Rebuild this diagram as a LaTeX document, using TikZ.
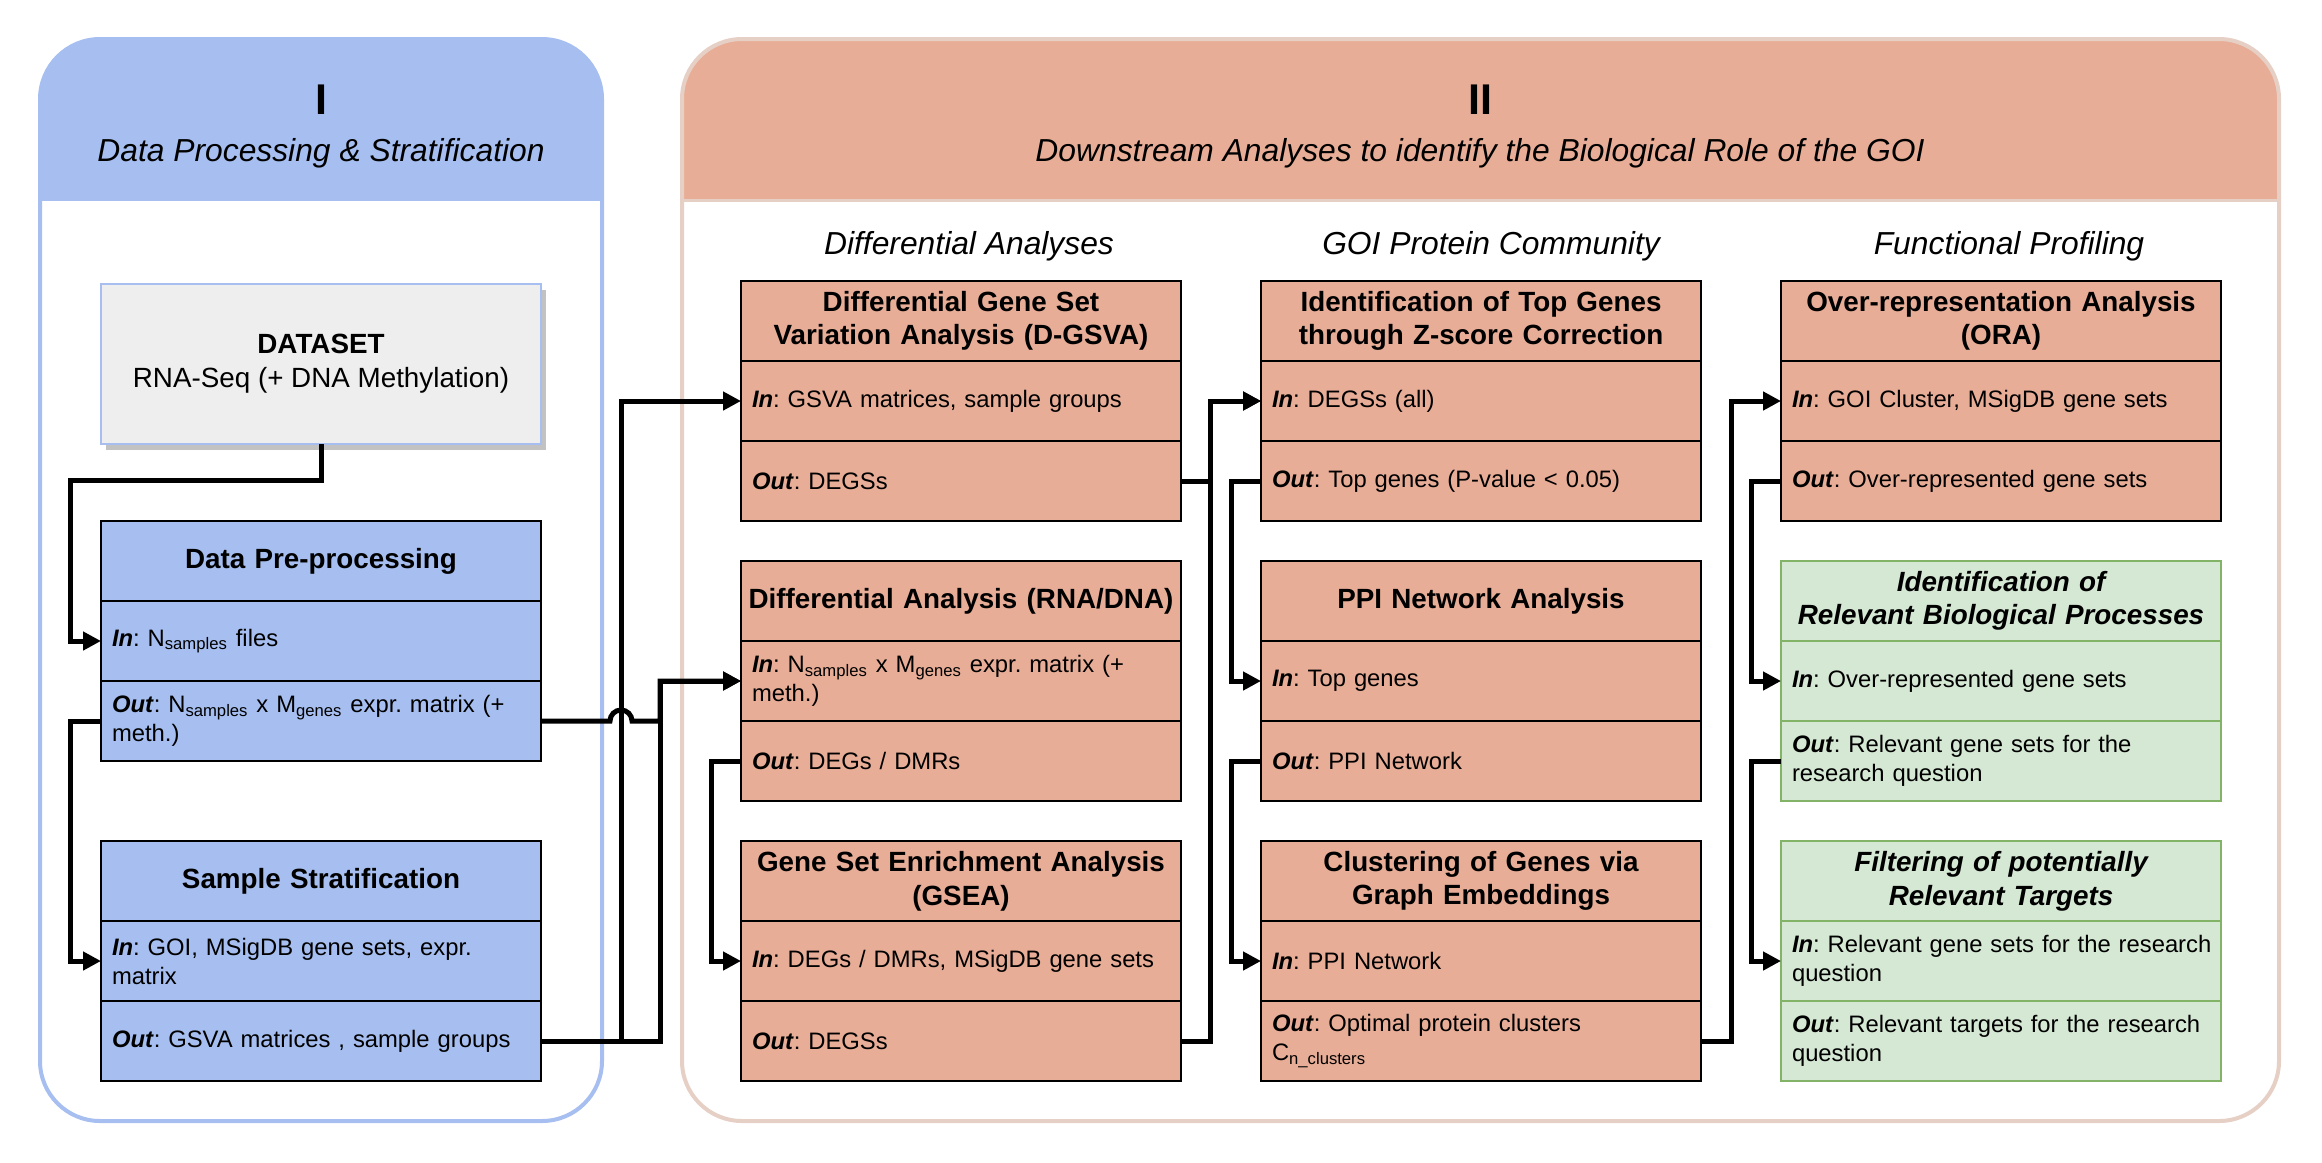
\documentclass[tikz,border=0pt]{standalone}
\usepackage{fontspec}
\setmainfont{Liberation Sans}
\usetikzlibrary{arrows.meta,calc,shadows}
\frenchspacing
\hyphenpenalty=10000
\exhyphenpenalty=10000
\hfuzz=20pt
\definecolor{hblue}{HTML}{A6BFF0}
\definecolor{borange}{HTML}{E8AD97}
\definecolor{pstroke}{HTML}{E6D0C6}
\definecolor{gfill}{HTML}{D5E8D4}
\definecolor{gstroke}{HTML}{82B366}
\definecolor{dgray}{HTML}{EEEEEE}
\definecolor{dshadow}{HTML}{C2C2C2}
\definecolor{bstroke}{HTML}{A6BFF0}
\newcommand{\bodyf}{\fontsize{11.9pt}{14.5pt}\selectfont}
\newcommand{\titlef}{\fontsize{13.9pt}{16.8pt}\selectfont}
\newcommand{\myin}{\textbf{\textit{In}}: }
\newcommand{\myout}{\textbf{\textit{Out}}: }
\begin{document}
\begin{tikzpicture}[x=0.5pt,y=-0.5pt,
  sec/.style={draw=black, line width=1pt, minimum width=220pt, minimum height=40pt, inner sep=0pt, outer sep=0pt},
  ttl/.style={sec, font=\titlef\bfseries, align=center, text width=216pt},
  gttl/.style={sec, font=\titlef\bfseries\itshape, align=center, text width=216pt},
  io/.style={sec, font=\bodyf, align=left, text width=209pt},
  ob/.style={fill=borange},
  bb/.style={fill=hblue},
  gb/.style={fill=gfill, draw=gstroke},
  conn/.style={line width=2.5pt, line join=miter, -{Triangle[length=9pt,width=9pt]}},
  hdr/.style={font=\fontsize{21.5pt}{24pt}\selectfont\bfseries},
  sub/.style={font=\fontsize{15.9pt}{19pt}\selectfont\itshape},
]
\useasboundingbox (0,0) rectangle (2322,1162);

% Panel I
\begin{scope}
  \clip[rounded corners=30pt] (40,39) rectangle (602,1121);
  \fill[white] (40,39) rectangle (602,1121);
  \fill[hblue] (40,39) rectangle (602,201);
\end{scope}
\draw[bstroke, line width=2pt, rounded corners=30pt] (40,39) rectangle (602,1121);

% Panel II
\begin{scope}
  \clip[rounded corners=30pt] (682,39) rectangle (2279,1121);
  \fill[white] (682,39) rectangle (2279,1121);
  \fill[borange] (682,39) rectangle (2279,200);
\end{scope}
\draw[pstroke, line width=1.5pt] (682,200) -- (2279,200);
\draw[pstroke, line width=2pt, rounded corners=30pt] (682,39) rectangle (2279,1121);

% headers
\node[hdr] (h1) at (321,100) {I};
\node[sub] (s1) at (321,153) {Data Processing \& Stratification};
\node[hdr] (h2) at (1480,100) {II};
\node[sub] (s2) at (1480,153) {Downstream Analyses to identify the Biological Role of the GOI};
\node[sub] (c1) at (969,246) {Differential Analyses};
\node[sub] (c2) at (1491,246) {GOI Protein Community};
\node[sub] (c3) at (2009,246) {Functional Profiling};

% Dataset
\node[draw=bstroke, fill=dgray, line width=1pt, minimum width=220pt, minimum height=80pt,
      inner sep=0pt, outer sep=0pt, align=center, font=\fontsize{13.9pt}{17pt}\selectfont,
      drop shadow={shadow xshift=2.5pt, shadow yshift=-3pt, fill=dshadow, opacity=1}]
      (ds) at (321,364) {\textbf{DATASET}\\RNA-Seq (+ DNA Methylation)};

% Left boxes
\node[ttl,bb] (pre-t) at (321,561) {Data Pre-processing};
\node[io,bb] (pre-in) at (321,641) {\myin N\textsubscript{samples} files};
\node[io,bb] (pre-out) at (321,721) {\myout N\textsubscript{samples} x M\textsubscript{genes} expr. matrix (+\\meth.)};

\node[ttl,bb] (st-t) at (321,881) {Sample Stratification};
\node[io,bb] (st-in) at (321,961) {\myin GOI, MSigDB gene sets, expr.\\matrix};
\node[io,bb] (st-out) at (321,1041) {\myout GSVA matrices , sample groups};

% Column 1
\node[ttl,ob] (dg-t) at (961,321) {Differential Gene Set\\Variation Analysis (D-GSVA)};
\node[io,ob] (dg-in) at (961,401) {\myin GSVA matrices, sample groups};
\node[io,ob] (dg-out) at (961,481) {\myout DEGSs};

\node[ttl,ob] (da-t) at (961,601) {Differential Analysis (RNA/DNA)};
\node[io,ob] (da-in) at (961,681) {\myin N\textsubscript{samples} x M\textsubscript{genes} expr. matrix (+\\meth.)};
\node[io,ob] (da-out) at (961,761) {\myout DEGs / DMRs};

\node[ttl,ob] (gs-t) at (961,881) {Gene Set Enrichment Analysis\\(GSEA)};
\node[io,ob] (gs-in) at (961,961) {\myin DEGs / DMRs, MSigDB gene sets};
\node[io,ob] (gs-out) at (961,1041) {\myout DEGSs};

% Column 2
\node[ttl,ob] (tg-t) at (1481,321) {Identification of Top Genes\\through Z-score Correction};
\node[io,ob] (tg-in) at (1481,401) {\myin DEGSs (all)};
\node[io,ob] (tg-out) at (1481,481) {\myout Top genes (P-value < 0.05)};

\node[ttl,ob] (pp-t) at (1481,601) {PPI Network Analysis};
\node[io,ob] (pp-in) at (1481,681) {\myin Top genes};
\node[io,ob] (pp-out) at (1481,761) {\myout PPI Network};

\node[ttl,ob] (cl-t) at (1481,881) {Clustering of Genes via\\Graph Embeddings};
\node[io,ob] (cl-in) at (1481,961) {\myin PPI Network};
\node[io,ob] (cl-out) at (1481,1041) {\myout Optimal protein clusters\\C\textsubscript{n\_clusters}};

% Column 3
\node[ttl,ob] (or-t) at (2001,321) {Over-representation Analysis\\(ORA)};
\node[io,ob] (or-in) at (2001,401) {\myin GOI Cluster, MSigDB gene sets};
\node[io,ob] (or-out) at (2001,481) {\myout Over-represented gene sets};

\node[gttl,gb] (id-t) at (2001,601) {Identification of\\Relevant Biological Processes};
\node[io,gb] (id-in) at (2001,681) {\myin Over-represented gene sets};
\node[io,gb] (id-out) at (2001,761) {\myout Relevant gene sets for the\\research question};

\node[gttl,gb] (fi-t) at (2001,881) {Filtering of potentially\\Relevant Targets};
\node[io,gb] (fi-in) at (2001,961) {\mbox{\myin Relevant gene sets for the research}\\question};
\node[io,gb] (fi-out) at (2001,1041) {\mbox{\myout Relevant targets for the research}\\question};

% Connectors
\draw[conn] (ds.south) -- ++(0,36) -| ($(pre-in.west)+(-31,0)$) -- (pre-in.west);
\draw[conn] (pre-out.west) -- ++(-31,0) |- (st-in.west);
\draw[conn] (st-out.east) -- ++(80,0) |- (dg-in.west);
\draw[conn] (st-out.east) -- ++(119,0) |- (da-in.west);
\draw[conn] (pre-out.east) -- ++(69,0) arc[start angle=180, end angle=360, radius=11] -- ++(28,0) |- (da-in.west);
\draw[conn] (da-out.west) -- ++(-30,0) |- (gs-in.west);
\draw[conn] (dg-out.east) -- ++(29,0) |- (tg-in.west);
\draw[conn] (gs-out.east) -- ++(29,0) |- (tg-in.west);
\draw[conn] (tg-out.west) -- ++(-30,0) |- (pp-in.west);
\draw[conn] (pp-out.west) -- ++(-30,0) |- (cl-in.west);
\draw[conn] (cl-out.east) -- ++(30,0) |- (or-in.west);
\draw[conn] (or-out.west) -- ++(-30,0) |- (id-in.west);
\draw[conn] (id-out.west) -- ++(-30,0) |- (fi-in.west);
\end{tikzpicture}
\end{document}
